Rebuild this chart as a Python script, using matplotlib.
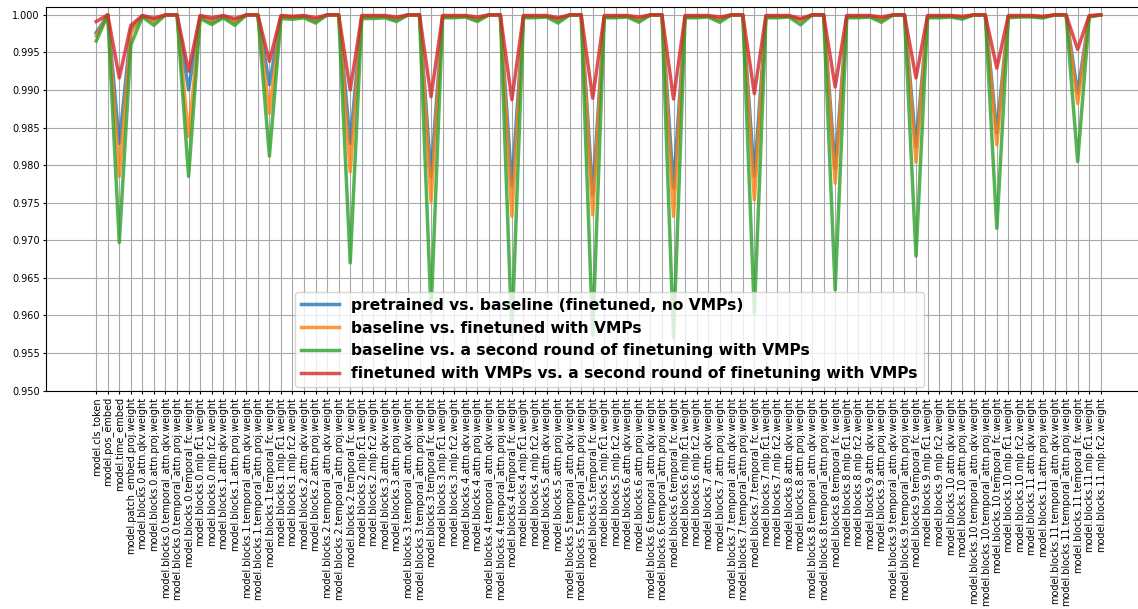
import numpy as np
import matplotlib
matplotlib.use('Agg')
import matplotlib.pyplot as plt

# parameter names (x axis)
head_params = ['model.cls_token', 'model.pos_embed', 'model.time_embed',
               'model.patch_embed.proj.weight']
block_parts = ['attn.qkv.weight', 'attn.proj.weight', 'temporal_attn.qkv.weight',
               'temporal_attn.proj.weight', 'temporal_fc.weight',
               'mlp.fc1.weight', 'mlp.fc2.weight']
param_names = head_params + ['model.blocks.%d.%s' % (b, p)
                             for b in range(12) for p in block_parts]

# cosine similarity per parameter
pre_vs_base = [
    0.9976, 0.99998, 0.9829, 0.9980,
    0.99985, 0.9993, 0.99998, 0.99998, 0.9900, 0.9998, 0.9992,
    0.9998, 0.9992, 0.99998, 0.99998, 0.9907, 0.9998, 0.9997,
    0.9998, 0.9993, 0.99998, 0.99998, 0.9829, 0.9998, 0.9998,
    0.9998, 0.9994, 0.99998, 0.99998, 0.9785, 0.9998, 0.9998,
    0.9998, 0.9994, 0.99998, 0.99998, 0.9772, 0.9998, 0.9998,
    0.9998, 0.9994, 0.99998, 0.99998, 0.9760, 0.9998, 0.9998,
    0.9998, 0.9994, 0.99998, 0.99998, 0.9770, 0.9998, 0.9998,
    0.9998, 0.9994, 0.99998, 0.99998, 0.9785, 0.9998, 0.9998,
    0.9998, 0.9993, 0.99998, 0.99998, 0.9795, 0.9998, 0.9998,
    0.9998, 0.9994, 0.99998, 0.99998, 0.9825, 0.9998, 0.9998,
    0.9998, 0.9996, 0.99998, 0.99998, 0.9843, 0.9998, 0.9998,
    0.9998, 0.9997, 0.99998, 0.99998, 0.9896, 0.9998, 0.99998,
]
base_vs_vmp = [
    0.9972, 0.99998, 0.9785, 0.9975,
    0.9998, 0.9991, 0.99998, 0.99998, 0.9838, 0.9997, 0.9990,
    0.9997, 0.9990, 0.99998, 0.99998, 0.9869, 0.9997, 0.9996,
    0.9997, 0.9991, 0.99998, 0.99998, 0.9791, 0.9997, 0.9997,
    0.9997, 0.9993, 0.99998, 0.99998, 0.9752, 0.9997, 0.9997,
    0.9998, 0.9993, 0.99998, 0.99998, 0.9732, 0.9997, 0.9997,
    0.9998, 0.9992, 0.99998, 0.99998, 0.9734, 0.9997, 0.9997,
    0.9998, 0.9993, 0.99998, 0.99998, 0.9732, 0.9997, 0.9997,
    0.9998, 0.9993, 0.99998, 0.99998, 0.9754, 0.9997, 0.9997,
    0.9998, 0.9992, 0.99998, 0.99998, 0.9776, 0.9997, 0.9997,
    0.9998, 0.9993, 0.99998, 0.99998, 0.9804, 0.9997, 0.9997,
    0.9998, 0.9996, 0.99998, 0.99998, 0.9827, 0.9997, 0.9998,
    0.9998, 0.9997, 0.99998, 0.99998, 0.9882, 0.9998, 0.99998,
]
base_vs_vmp2 = [
    0.9965, 0.99998, 0.9697, 0.9960,
    0.9997, 0.9986, 0.99998, 0.99998, 0.9785, 0.9995, 0.9987,
    0.9996, 0.9986, 0.99998, 0.99998, 0.9812, 0.9995, 0.9994,
    0.9996, 0.9989, 0.99998, 0.99998, 0.9670, 0.9995, 0.9995,
    0.9996, 0.9991, 0.99998, 0.99998, 0.9604, 0.9996, 0.9996,
    0.9997, 0.9991, 0.99998, 0.99998, 0.9574, 0.9996, 0.9996,
    0.9997, 0.9989, 0.99998, 0.99998, 0.9574, 0.9996, 0.9996,
    0.9997, 0.9990, 0.99998, 0.99998, 0.9570, 0.9996, 0.9996,
    0.9997, 0.9990, 0.99998, 0.99998, 0.9603, 0.9996, 0.9996,
    0.9997, 0.99867, 0.99998, 0.99998, 0.9634, 0.9996, 0.9996,
    0.9997, 0.9990, 0.99998, 0.99998, 0.9679, 0.9996, 0.9996,
    0.9997, 0.99942, 0.99998, 0.99998, 0.9716, 0.9996, 0.9997,
    0.9997, 0.99956, 0.99998, 0.99998, 0.9805, 0.9997, 0.99998,
]
vmp_vs_vmp2 = [
    0.9991, 0.99998, 0.9916, 0.9986,
    0.9999, 0.99955, 0.99998, 0.99998, 0.9925, 0.9999, 0.9996,
    0.9999, 0.9995, 0.99998, 0.99998, 0.9938, 0.9999, 0.9998,
    0.9999, 0.9996, 0.99998, 0.99998, 0.9900, 0.9999, 0.9999,
    0.9999, 0.9997, 0.99998, 0.99998, 0.9891, 0.9999, 0.9999,
    0.9999, 0.9997, 0.99998, 0.99998, 0.9887, 0.9999, 0.9999,
    0.9999, 0.9996, 0.99998, 0.99998, 0.9889, 0.9999, 0.9999,
    0.9999, 0.9997, 0.99998, 0.99998, 0.9888, 0.9999, 0.9999,
    0.9999, 0.9997, 0.99998, 0.99998, 0.9895, 0.9999, 0.9999,
    0.9999, 0.9995, 0.99998, 0.99998, 0.9904, 0.9999, 0.9999,
    0.9999, 0.9997, 0.99998, 0.99998, 0.9916, 0.9999, 0.9999,
    0.9999, 0.9998, 0.99998, 0.99998, 0.9929, 0.9999, 0.9999,
    0.9999, 0.9998, 0.99998, 0.99998, 0.9954, 0.9999, 0.99998,
]
series_labels = ['pretrained vs. baseline (finetuned, no VMPs)',
                 'baseline vs. finetuned with VMPs',
                 'baseline vs. a second round of finetuning with VMPs',
                 'finetuned with VMPs vs. a second round of finetuning with VMPs']

fig = plt.figure(figsize=(11.38, 6.09), dpi=100)
ax = fig.add_axes([0.0404, 0.3585, 0.971, 0.6296])

x = np.arange(len(param_names))
for vals, lab in zip([pre_vs_base, base_vs_vmp, base_vs_vmp2, vmp_vs_vmp2], series_labels):
    ax.plot(x, vals, linewidth=2.5, alpha=0.8, label=lab)

ax.set_ylim(0.95, 1.001)
ax.set_yticks(np.arange(0.95, 1.0001, 0.005))
ax.set_xticks(x)
ax.set_xticklabels(param_names, rotation=90, fontsize=7)
ax.tick_params(axis='y', labelsize=7)
ax.tick_params(axis='both', length=2.5, pad=2)
ax.grid(True, color='#a8a8a8', linewidth=0.8)

ax.legend(loc='lower center', bbox_to_anchor=(0.5356, 0.364), bbox_transform=fig.transFigure,
          borderaxespad=0, prop={'weight': 'bold', 'size': 11.2}, handlelength=2.4)

fig.savefig('out.png', dpi=100)
